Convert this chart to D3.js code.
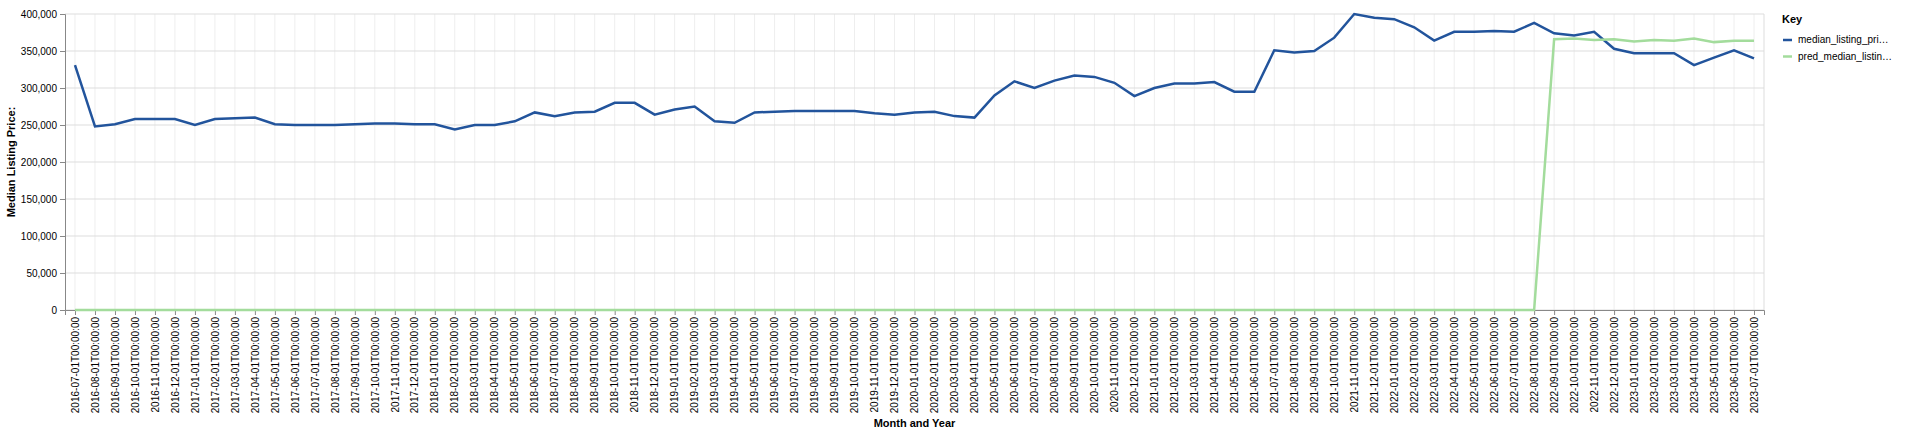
<!DOCTYPE html>
<html>
<head>
<meta charset="utf-8">
<script src="https://cdn.jsdelivr.net/npm/d3@7"></script>
<style>
  body { margin: 0; background: #fff; font-family: "Liberation Sans", Arial, sans-serif; }
</style>
</head>
<body>
<svg id="chart" width="1920" height="434"></svg>
<script>
// months 2016-07 .. 2023-07
const months = d3.timeMonths(new Date(2016, 6, 1), new Date(2023, 7, 1))
  .map(d => d3.timeFormat("%Y-%m-01T00:00:00")(d));

const medianPrice = [
  331000, 248000, 251000, 258000, 258000, 258000, 250000, 258000, 259000, 260000,
  251000, 250000, 250000, 250000, 251000, 252000, 252000, 251000, 251000, 244000,
  250000, 250000, 255000, 267000, 262000, 267000, 268000, 280000, 280000, 264000,
  271000, 275000, 255000, 253000, 267000, 268000, 269000, 269000, 269000, 269000,
  266000, 264000, 267000, 268000, 262000, 260000, 290000, 309000, 300000, 310000,
  317000, 315000, 307000, 289000, 300000, 306000, 306000, 308000, 295000, 295000,
  351000, 348000, 350000, 368000, 400000, 395000, 393000, 382000, 364000, 376000,
  376000, 377000, 376000, 388000, 374000, 371000, 376000, 353000, 347000, 347000,
  347000, 331000, 341000, 351000, 340000
];

const predPrice = months.map(() => 0);
[366000, 367000, 365000, 366000, 363000, 365000, 364000, 367000, 362000, 364000, 364000]
  .forEach((v, i) => { predPrice[74 + i] = v; });

const seriesNames = ["median_listing_pri\u2026", "pred_median_listin\u2026"];
const colors = ["#22549c", "#a3dc9c"];

const svg = d3.select("#chart");
const mLeft = 65, mRight = 1764, mTop = 14, mBottom = 310;
const font = "Liberation Sans, Arial, sans-serif";

const x = d3.scalePoint().domain(months).range([mLeft, mRight]).padding(0.5);
const y = d3.scaleLinear().domain([0, 400000]).range([mBottom, mTop]);

// grid
svg.append("g")
  .selectAll("line")
  .data(months)
  .enter().append("line")
  .attr("x1", d => x(d)).attr("x2", d => x(d))
  .attr("y1", mTop).attr("y2", mBottom)
  .attr("stroke", "#eee");

svg.append("g")
  .selectAll("line")
  .data(y.ticks(8))
  .enter().append("line")
  .attr("x1", mLeft).attr("x2", mRight)
  .attr("y1", d => y(d)).attr("y2", d => y(d))
  .attr("stroke", "#ddd");

svg.append("line")
  .attr("x1", mRight).attr("x2", mRight).attr("y1", mTop).attr("y2", mBottom)
  .attr("stroke", "#ddd");

// axes
const xAxis = svg.append("g")
  .attr("transform", `translate(0,${mBottom})`)
  .call(d3.axisBottom(x).tickSizeOuter(0).tickSize(5));
xAxis.selectAll("text")
  .attr("transform", "rotate(-90)")
  .attr("text-anchor", "end")
  .attr("x", -7).attr("y", 0).attr("dy", "0.32em")
  .style("font-size", "10px").style("font-family", font).attr("fill", "#000");
xAxis.selectAll("line").attr("stroke", "#888");
xAxis.select(".domain").attr("stroke", "#888");

const yAxis = svg.append("g")
  .attr("transform", `translate(${mLeft},0)`)
  .call(d3.axisLeft(y).ticks(8).tickFormat(d3.format(",")).tickSizeOuter(0).tickSize(5));
yAxis.selectAll("text").style("font-size", "10px").style("font-family", font).attr("fill", "#000");
yAxis.selectAll("line").attr("stroke", "#888");
yAxis.select(".domain").attr("stroke", "#888");

svg.append("text")
  .attr("x", (mLeft + mRight) / 2).attr("y", 427)
  .attr("text-anchor", "middle")
  .style("font-size", "11px").style("font-weight", "bold")
  .text("Month and Year");

svg.append("text")
  .attr("transform", `translate(15,${(mTop + mBottom) / 2}) rotate(-90)`)
  .attr("text-anchor", "middle")
  .style("font-size", "11px").style("font-weight", "bold")
  .text("Median Listing Price:");

// lines
const line = d3.line().x((d, i) => x(months[i])).y(d => y(d));
[medianPrice, predPrice].forEach((s, k) => {
  svg.append("path")
    .datum(s)
    .attr("fill", "none")
    .attr("stroke", colors[k])
    .attr("stroke-width", 2.5)
    .attr("d", line);
});

// legend
const lg = svg.append("g").attr("transform", "translate(1782,0)");
lg.append("text").attr("x", 0).attr("y", 23)
  .style("font-size", "11px").style("font-weight", "bold").text("Key");
seriesNames.forEach((n, i) => {
  const yy = 40 + i * 16.5;
  lg.append("line").attr("x1", 1).attr("x2", 10).attr("y1", yy).attr("y2", yy)
    .attr("stroke", colors[i]).attr("stroke-width", 2.5);
  lg.append("text").attr("x", 16).attr("y", yy).attr("dy", "0.32em")
    .style("font-size", "10px").text(n);
});
</script>
</body>
</html>
